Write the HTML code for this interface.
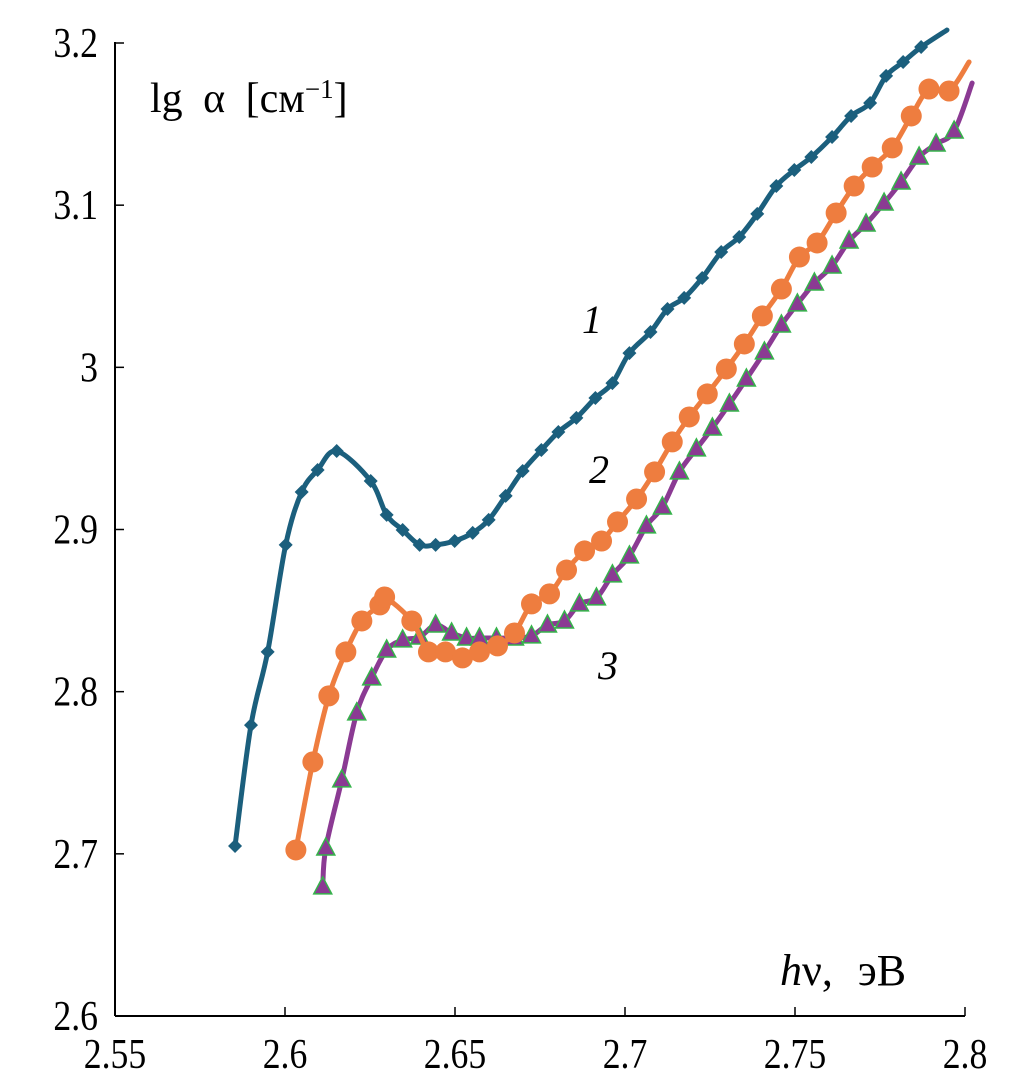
<!DOCTYPE html>
<html><head><meta charset="utf-8"><style>
html,body{margin:0;padding:0;background:#fff;}
svg{display:block;}
text{font-family:"Liberation Serif",serif;fill:#000;}
</style></head><body>
<svg id="chart" width="1010" height="1087" viewBox="0 0 1010 1087" xmlns="http://www.w3.org/2000/svg">
<g id="axes"></g>
<g id="series"></g>
<text x="150" y="112" font-size="42" word-spacing="10">lg α  [см<tspan font-size="27" dy="-14">−1</tspan><tspan dy="14">]</tspan></text>
<text x="780" y="985" font-size="44" word-spacing="14"><tspan font-style="italic">h</tspan>ν, эВ</text>
<text x="582" y="333" font-size="40" font-style="italic">1</text>
<text x="589" y="483" font-size="40" font-style="italic">2</text>
<text x="598" y="679" font-size="40" font-style="italic">3</text>
</svg>
<script>
const xTicks=[2.55,2.6,2.65,2.7,2.75,2.8];
const xTickLabels=["2.55","2.6","2.65","2.7","2.75","2.8"];
const yTicks=[2.6,2.7,2.8,2.9,3,3.1,3.2];
const yTickLabels=["2.6","2.7","2.8","2.9","3","3.1","3.2"];
const s1x=[2.5853,2.5900,2.5949,2.6002,2.6049,2.6096,2.6152,2.6252,2.6299,2.6346,2.6396,2.6443,2.6499,2.6552,2.6599,2.6649,2.6699,2.6754,2.6804,2.6857,2.6913,2.6963,2.7013,2.7075,2.7125,2.7174,2.7227,2.7283,2.7336,2.7389,2.7445,2.7498,2.7548,2.7609,2.7665,2.7721,2.7768,2.7818,2.7871,2.7947];
const s1y=[2.7048,2.7794,2.8245,2.8905,2.9231,2.9367,2.9484,2.9299,2.9090,2.8997,2.8905,2.8905,2.8929,2.8979,2.9059,2.9207,2.9361,2.9490,2.9601,2.9688,2.9811,2.9903,3.0088,3.0218,3.0360,3.0428,3.0551,3.0711,3.0804,3.0946,3.1118,3.1217,3.1297,3.1420,3.1550,3.1630,3.1797,3.1883,3.1975,3.2080];
const s2x=[2.6032,2.6082,2.6129,2.6179,2.6226,2.6279,2.6293,2.6373,2.6422,2.6472,2.6522,2.6572,2.6625,2.6675,2.6725,2.6778,2.6828,2.6881,2.6931,2.6978,2.7034,2.7087,2.7139,2.7189,2.7242,2.7298,2.7351,2.7404,2.7460,2.7513,2.7565,2.7621,2.7674,2.7727,2.7786,2.7842,2.7894,2.7953,2.8012];
const s2y=[2.7024,2.7567,2.7974,2.8245,2.8436,2.8535,2.8584,2.8436,2.8245,2.8245,2.8208,2.8245,2.8282,2.8362,2.8541,2.8603,2.8750,2.8868,2.8929,2.9047,2.9188,2.9355,2.9540,2.9694,2.9836,2.9990,3.0144,3.0317,3.0483,3.0680,3.0767,3.0952,3.1118,3.1235,3.1353,3.1550,3.1716,3.1704,3.1883];
const s3x=[2.6111,2.6120,2.6167,2.6211,2.6255,2.6299,2.6346,2.6396,2.6443,2.6490,2.6534,2.6572,2.6622,2.6675,2.6725,2.6772,2.6822,2.6866,2.6916,2.6963,2.7013,2.7063,2.7110,2.7160,2.7210,2.7257,2.7307,2.7357,2.7410,2.7460,2.7507,2.7557,2.7609,2.7659,2.7709,2.7762,2.7812,2.7865,2.7915,2.7968,2.8021];
const s3y=[2.6796,2.7036,2.7456,2.7869,2.8085,2.8257,2.8319,2.8337,2.8411,2.8362,2.8331,2.8331,2.8331,2.8331,2.8344,2.8411,2.8436,2.8541,2.8578,2.8720,2.8837,2.9022,2.9139,2.9355,2.9497,2.9626,2.9774,2.9928,3.0095,3.0261,3.0391,3.0520,3.0625,3.0779,3.0884,3.1013,3.1143,3.1297,3.1377,3.1457,3.1753];

const NS="http://www.w3.org/2000/svg";
const X0=115,X1=965,Y0=1016,Y1=43;
function xs(v){return X0+(v-2.55)/(2.8-2.55)*(X1-X0);}
function ys(v){return Y0-(v-2.6)/(3.2-2.6)*(Y0-Y1);}
function mk(tag,attrs,parent){const e=document.createElementNS(NS,tag);for(const k in attrs)e.setAttribute(k,attrs[k]);parent.appendChild(e);return e;}
const axes=document.getElementById('axes');
let e=mk('line',{x1:X0,y1:Y1-1,x2:X0,y2:Y0,stroke:'#000','stroke-width':2},axes);


e=mk('line',{x1:X0,y1:Y0,x2:X1,y2:Y0,stroke:'#000','stroke-width':2},axes);


xTicks.forEach((t,i)=>{
  const x=xs(t);
  const l=mk('line',{x1:x,y1:Y0,x2:x,y2:Y0-9,stroke:'#000','stroke-width':1.5},axes);
  
  
  const tx=mk('text',{x:0,y:0,'font-size':42,'text-anchor':'middle',transform:`translate(${x},1068) scale(0.85,1)`},axes);
  tx.textContent=xTickLabels[i];
  
  
});
yTicks.forEach((t,i)=>{
  const y=ys(t);
  const l=mk('line',{x1:X0,y1:y,x2:X0+9,y2:y,stroke:'#000','stroke-width':1.5},axes);
  
  
  const tx=mk('text',{x:0,y:0,'font-size':42,'text-anchor':'end',transform:`translate(98,${y+14}) scale(0.85,1)`},axes);
  tx.textContent=yTickLabels[i];
  
  
});
function smooth(pts){
  let d='M'+pts[0][0]+','+pts[0][1];
  for(let i=0;i<pts.length-1;i++){
    const p0=pts[i-1]||pts[i],p1=pts[i],p2=pts[i+1],p3=pts[i+2]||p2;
    const c1=[p1[0]+(p2[0]-p0[0])/6,p1[1]+(p2[1]-p0[1])/6];
    const c2=[p2[0]-(p3[0]-p1[0])/6,p2[1]-(p3[1]-p1[1])/6];
    d+=' C'+c1[0]+','+c1[1]+' '+c2[0]+','+c2[1]+' '+p2[0]+','+p2[1];
  }
  return d;
}
const sg=document.getElementById('series');
function drawSeries(xa,ya,color,name,marker){
  const g=mk('g',{},sg);
  
  
  const pts=xa.map((v,i)=>[xs(v),ys(ya[i])]);
  const p=mk('path',{d:smooth(pts),fill:'none',stroke:color,'stroke-width':5,'stroke-linejoin':'round','stroke-linecap':'round'},g);
  
  
  pts.slice(0,-1).forEach(([x,y])=>{
    let m;
    if(marker==='diamond') m=mk('polygon',{points:`${x},${y-7} ${x+7},${y} ${x},${y+7} ${x-7},${y}`,fill:color},g);
    else if(marker==='circle') m=mk('circle',{cx:x,cy:y,r:10.5,fill:color},g);
    else m=mk('polygon',{points:`${x},${y-10} ${x+9},${y+7} ${x-9},${y+7}`,fill:'#8b3a93',stroke:'#35b34a','stroke-width':1.5},g);
    
    
  });
}
drawSeries(s3x,s3y,'#8b3a93','series-3','triangle');
drawSeries(s2x,s2y,'#ee7d3f','series-2','circle');
drawSeries(s1x,s1y,'#1b5f7d','series-1','diamond');
</script>
</body></html>
